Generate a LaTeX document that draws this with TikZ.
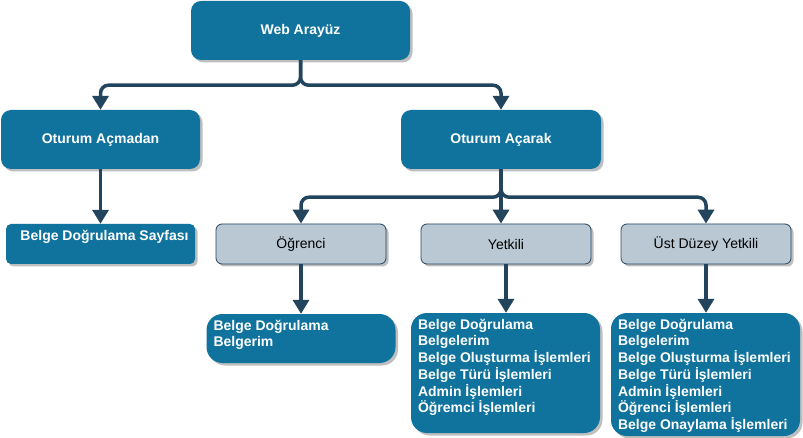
\documentclass[tikz,border=0pt]{standalone}
\usepackage{fontspec}
\setmainfont{Liberation Sans}
\usetikzlibrary{shapes, arrows.meta, shadows, calc, positioning}
\definecolor{drawblue}{HTML}{10739E}
\definecolor{drawslate}{HTML}{23445D}
\definecolor{drawgrey}{HTML}{BAC8D3}
\begin{document}
\begin{tikzpicture}[x=1pt, y=-1pt,
    boxshadow/.style={drop shadow={shadow xshift=2.5pt, shadow yshift=-2.5pt, fill=black!25, opacity=1}},
    bluebox/.style={rectangle, rounded corners=10pt, fill=drawblue, text=white, boxshadow,
        font=\fontsize{14}{16.7}\selectfont\bfseries},
    greybox/.style={rectangle, rounded corners=6pt, fill=drawgrey, draw=drawslate, line width=0.8pt, boxshadow,
        minimum width=170pt, minimum height=40pt, font=\fontsize{14}{16.7}\selectfont},
    listbox/.style={rectangle, rounded corners=16pt, fill=drawblue, boxshadow, minimum width=189pt},
    listtext/.style={anchor=north west, align=left, inner sep=0pt, text=white,
        font=\fontsize{14}{16.7}\selectfont\bfseries},
    conn/.style={draw=drawslate, line width=3.5pt, rounded corners=8pt, -{Triangle[width=16pt, length=14pt]}}]
    \useasboundingbox (0,0) rectangle (803,438);
    \node[bluebox, minimum width=219pt, minimum height=59pt] (W) at (300.5,30.5) {Web Arayüz};
    \node[bluebox, minimum width=199pt, minimum height=59pt] (A1) at (100.5,139.5) {Oturum Açmadan};
    \node[bluebox, minimum width=200pt, minimum height=59pt] (A2) at (501,139.5) {Oturum Açarak};
    \node[bluebox, rounded corners=5pt, minimum width=189pt, minimum height=40pt] (S) at (100.5,244) {};
    \node[listtext, anchor=base, align=center] (ST) at ($(S.north)+(4,17)$) {Belge Doğrulama Sayfası};
    \foreach \n/\x/\t in {1/301/Öğrenci, 2/506/Yetkili, 3/706/Üst Düzey Yetkili}{
        \node[greybox] (R\n) at (\x,244) {\t};
    }
    \node[listbox, minimum height=49pt] (K1) at (301,338.5) {};
    \node[listbox, minimum height=120pt] (K2) at (505.5,373) {};
    \node[listbox, minimum height=123pt] (K3) at (705.5,374.5) {};
    \node[listtext] (T1) at ($(K1.north west)+(7,6)$) {Belge Doğrulama\\Belgerim};
    \node[listtext] (T2) at ($(K2.north west)+(7,6)$) {Belge Doğrulama\\Belgelerim\\Belge Oluşturma İşlemleri\\Belge Türü İşlemleri\\Admin İşlemleri\\Öğremci İşlemleri};
    \node[listtext] (T3) at ($(K3.north west)+(7,6)$) {Belge Doğrulama\\Belgelerim\\Belge Oluşturma İşlemleri\\Belge Türü İşlemleri\\Admin İşlemleri\\Öğrenci İşlemleri\\Belge Onaylama İşlemleri};
    \draw[conn] (W.south) -- ++(0,25) -| (A1.north);
    \draw[conn] (W.south) -- ++(0,25) -| (A2.north);
    \draw[conn] (A1.south) -- (S.north);
    \draw[conn] (A2.south) -- ++(0,28) -| (R1.north);
    \draw[conn] (A2.south) -- (A2.south |- R2.north);
    \draw[conn] (A2.south) -- ++(0,28) -| (R3.north);
    \foreach \n in {1,2,3}{
        \draw[conn] (R\n.south) -- (R\n.south |- K\n.north);
    }
\end{tikzpicture}
\end{document}
